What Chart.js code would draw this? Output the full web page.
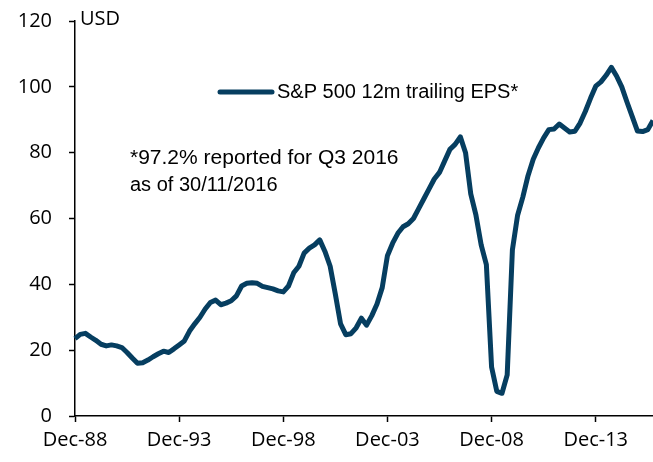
<!DOCTYPE html>
<html>
<head>
<meta charset="utf-8">
<script src="https://cdn.jsdelivr.net/npm/chart.js@4"></script>
<style>
  html, body { margin: 0; padding: 0; background: #fff; }
  #wrap { width: 653px; height: 462px; position: relative; }
</style>
</head>
<body>
<div id="wrap"><canvas id="epsChart"></canvas></div>
<script>
// quarterly, Dec-88 .. Sep-16
var quarters = ['Dec-88'];
var months = ['Mar', 'Jun', 'Sep', 'Dec'];
for (var yr = 1989; yr <= 2016; yr++) {
    for (var m = 0; m < 4; m++) {
        if (yr === 2016 && m === 3) break;
        quarters.push(months[m] + '-' + String(yr).slice(2));
    }
}

var eps = [
    23.5,
    24.8, 25.1, 24.0, 23.0,    // 1989
    21.8, 21.3, 21.6, 21.3,    // 1990
    20.8, 19.3, 17.6, 16.0,    // 1991
    16.2, 17.0, 18.0, 18.9,    // 1992
    19.7, 19.3, 20.4, 21.6,    // 1993
    22.8, 25.8, 28.0, 30.0,    // 1994
    32.5, 34.5, 35.2, 33.8,    // 1995
    34.3, 35.0, 36.5, 39.5,    // 1996
    40.3, 40.5, 40.3, 39.4,    // 1997
    39.0, 38.6, 38.0, 37.7,    // 1998
    39.5, 43.5, 45.5, 49.5,    // 1999
    51.0, 52.0, 53.5, 50.0,    // 2000
    45.5, 37.0, 28.0, 24.7,    // 2001
    25.0, 26.8, 29.7, 27.6,    // 2002
    30.5, 34.0, 39.0, 48.7,    // 2003
    52.5, 55.5, 57.5, 58.4,    // 2004
    60.0, 63.0, 66.0, 69.0,    // 2005
    72.0, 74.0, 77.5, 81.0,    // 2006
    82.5, 84.8, 80.0, 67.5,    // 2007
    61.0, 52.0, 46.0, 14.9,    // 2008
    7.5, 6.9, 12.5, 50.5,      // 2009
    61.0, 66.5, 73.0, 78.0,    // 2010
    81.5, 84.5, 87.0, 87.2,    // 2011
    88.7, 87.5, 86.3, 86.5,    // 2012
    89.0, 92.5, 96.5, 100.2,   // 2013
    101.5, 103.5, 105.9, 103.3, // 2014
    100.0, 95.4, 91.0, 86.6,   // 2015
    86.4, 87.0, 89.8           // 2016
];

var tickLabels = ['Dec-88', 'Dec-93', 'Dec-98', 'Dec-03', 'Dec-08', 'Dec-13'];
var yTicks = [0, 20, 40, 60, 80, 100, 120];

var lineColor = '#063e60';
var tickFont = { family: "'Open Sans', 'Noto Sans', sans-serif", size: 20 };

var overlay = {
    id: 'overlay',
    afterDraw: function (chart) {
        var c = chart.ctx;
        c.save();
        c.fillStyle = '#000';
        c.textBaseline = 'middle';
        c.font = "20px 'Open Sans', 'Noto Sans', sans-serif";
        c.fillText('USD', 80, 19);

        // legend
        c.strokeStyle = lineColor;
        c.lineWidth = 5;
        c.lineCap = 'round';
        c.beginPath();
        c.moveTo(220, 92);
        c.lineTo(272, 92);
        c.stroke();
        c.font = "20px 'Liberation Sans', Arial, sans-serif";
        c.fillText(chart.data.datasets[0].label, 277, 92);

        // note
        c.font = "21px 'Liberation Sans', Arial, sans-serif";
        c.fillText('*97.2% reported for Q3 2016', 130, 158);
        c.font = "20px 'Liberation Sans', Arial, sans-serif";
        c.fillText('as of 30/11/2016', 130, 185);
        c.restore();
    }
};

new Chart(document.getElementById('epsChart').getContext('2d'), {
    type: 'line',
    data: {
        labels: quarters,
        datasets: [{
            label: 'S&P 500 12m trailing EPS*',
            data: eps,
            borderColor: lineColor,
            borderWidth: 5,
            borderJoinStyle: 'round',
            pointRadius: 0,
            tension: 0,
            fill: false
        }]
    },
    options: {
        responsive: true,
        maintainAspectRatio: false,
        animation: false,
        layout: { padding: { top: 21, right: 0, left: 0, bottom: 0 } },
        plugins: {
            legend: { display: false },
            tooltip: { enabled: false }
        },
        scales: {
            x: {
                type: 'category',
                offset: false,
                afterFit: function (scale) {
                    scale.height = 46;
                    scale.paddingLeft = 0;
                    scale.paddingRight = 0;
                },
                border: { display: true, color: '#000', width: 1.5 },
                grid: {
                    drawOnChartArea: false,
                    drawTicks: true,
                    tickLength: 6,
                    tickColor: function (ctx) {
                        return ctx.index % 20 === 0 ? '#000' : 'rgba(0,0,0,0)';
                    },
                    tickWidth: 1.5
                },
                ticks: {
                    autoSkip: false,
                    maxRotation: 0,
                    minRotation: 0,
                    padding: 6,
                    color: '#000',
                    font: tickFont,
                    callback: function (val, i) {
                        return i % 20 === 0 ? tickLabels[i / 20] : '';
                    }
                }
            },
            y: {
                min: 0,
                max: 120,
                afterFit: function (scale) {
                    scale.width = 75;
                    scale.paddingTop = 0;
                    scale.paddingBottom = 0;
                },
                afterBuildTicks: function (scale) {
                    scale.ticks = yTicks.map(function (v) { return { value: v }; });
                },
                border: { display: true, color: '#000', width: 1.5 },
                grid: {
                    drawOnChartArea: false,
                    drawTicks: true,
                    tickLength: 6,
                    tickColor: '#000',
                    tickWidth: 1.5
                },
                ticks: {
                    padding: 17,
                    color: '#000',
                    font: tickFont
                }
            }
        }
    },
    plugins: [overlay]
});
</script>
</body>
</html>
